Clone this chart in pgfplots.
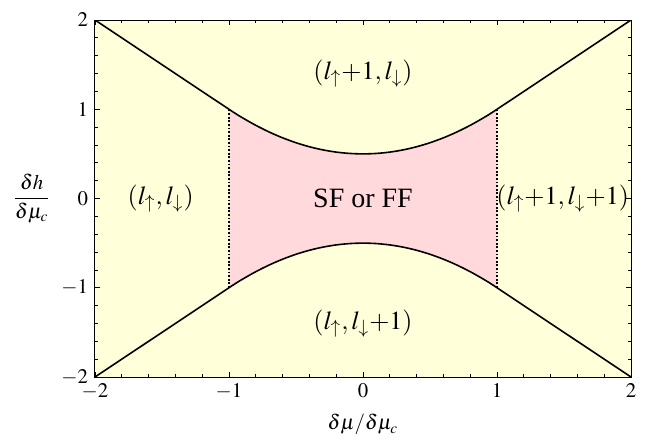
\documentclass[border=0pt]{standalone}
\usepackage{mathptmx}
\usepackage{fontspec}
\setmainfont{Liberation Serif}
\usepackage{pgfplots}
\pgfplotsset{compat=1.18}
\definecolor{bgyellow}{RGB}{255,255,218}
\definecolor{sfpink}{RGB}{255,217,220}
\newcommand{\up}{_{\uparrow}}
\newcommand{\dn}{_{\downarrow}}
\begin{document}
\begin{tikzpicture}
\path[use as bounding box] (-47.5pt,-32pt) rectangle (276pt,188.5pt);
\begin{axis}[
  at={(0,0)}, anchor=south west,
  scale only axis, width=268pt, height=178.5pt,
  xmin=-2, xmax=2, ymin=-2, ymax=2,
  xtick={-2,-1,0,1,2}, ytick={-2,-1,0,1,2},
  minor x tick num=4, minor y tick num=4,
  tick align=inside,
  major tick length=2.5pt, minor tick length=1.5pt,
  tick style={black, line width=0.4pt},
  axis line style={line width=0.5pt},
  axis background/.style={fill=bgyellow},
  tick label style={font=\fontsize{10.4}{12}\selectfont},
  label style={font=\fontsize{10.4}{12}\selectfont},
  xlabel={$\delta\mu/\delta\mu_c$},
  ylabel={$\displaystyle\frac{\delta h}{\delta\mu_c}$},
  x label style={at={(axis description cs:0.5,-0.134)}, anchor=center},
  y label style={at={(axis description cs:-0.118,0.5)}, rotate=-90, anchor=center},
  clip=true,
]
% pink region between the curves for |x|<1
\addplot[fill=sfpink, draw=none] coordinates {
  (-1,1) (-0.9,0.905) (-0.8,0.82) (-0.7,0.745) (-0.6,0.68) (-0.5,0.625)
  (-0.4,0.58) (-0.3,0.545) (-0.2,0.52) (-0.1,0.505) (0,0.5)
  (0.1,0.505) (0.2,0.52) (0.3,0.545) (0.4,0.58) (0.5,0.625)
  (0.6,0.68) (0.7,0.745) (0.8,0.82) (0.9,0.905) (1,1)
  (1,-1) (0.9,-0.905) (0.8,-0.82) (0.7,-0.745) (0.6,-0.68) (0.5,-0.625)
  (0.4,-0.58) (0.3,-0.545) (0.2,-0.52) (0.1,-0.505) (0,-0.5)
  (-0.1,-0.505) (-0.2,-0.52) (-0.3,-0.545) (-0.4,-0.58) (-0.5,-0.625)
  (-0.6,-0.68) (-0.7,-0.745) (-0.8,-0.82) (-0.9,-0.905) (-1,-1)
} -- cycle;
% dotted boundaries
\addplot[black, line width=0.6pt, dash pattern=on 0.9pt off 0.9pt] coordinates {(-1,-1) (-1,1)};
\addplot[black, line width=0.6pt, dash pattern=on 0.9pt off 0.9pt] coordinates {(1,-1) (1,1)};
% upper curve
\addplot[black, line width=0.8pt, smooth] coordinates {
  (-2,2) (-1.5,1.5) (-1,1) (-0.9,0.905) (-0.8,0.82) (-0.7,0.745) (-0.6,0.68) (-0.5,0.625)
  (-0.4,0.58) (-0.3,0.545) (-0.2,0.52) (-0.1,0.505) (0,0.5)
  (0.1,0.505) (0.2,0.52) (0.3,0.545) (0.4,0.58) (0.5,0.625)
  (0.6,0.68) (0.7,0.745) (0.8,0.82) (0.9,0.905) (1,1) (1.5,1.5) (2,2)
};
% lower curve
\addplot[black, line width=0.8pt, smooth] coordinates {
  (-2,-2) (-1.5,-1.5) (-1,-1) (-0.9,-0.905) (-0.8,-0.82) (-0.7,-0.745) (-0.6,-0.68) (-0.5,-0.625)
  (-0.4,-0.58) (-0.3,-0.545) (-0.2,-0.52) (-0.1,-0.505) (0,-0.5)
  (0.1,-0.505) (0.2,-0.52) (0.3,-0.545) (0.4,-0.58) (0.5,-0.625)
  (0.6,-0.68) (0.7,-0.745) (0.8,-0.82) (0.9,-0.905) (1,-1) (1.5,-1.5) (2,-2)
};
\node[font=\fontsize{13}{15}\selectfont] at (axis cs:0,1.4) {$(l\up{+}1,l\dn)$};
\node[font=\fontsize{13}{15}\selectfont] at (axis cs:0,-1.4) {$(l\up,l\dn{+}1)$};
\node[font=\fontsize{13}{15}\selectfont] at (axis cs:-1.51,0) {$(l\up,l\dn)$};
\node[font=\fontsize{13}{15}\selectfont] at (axis cs:1.49,0) {$(l\up{+}1,l\dn{+}1)$};
\node[font=\fontsize{14}{16}\selectfont] at (axis cs:0,0) {SF or FF};
\end{axis}
\end{tikzpicture}
\end{document}
